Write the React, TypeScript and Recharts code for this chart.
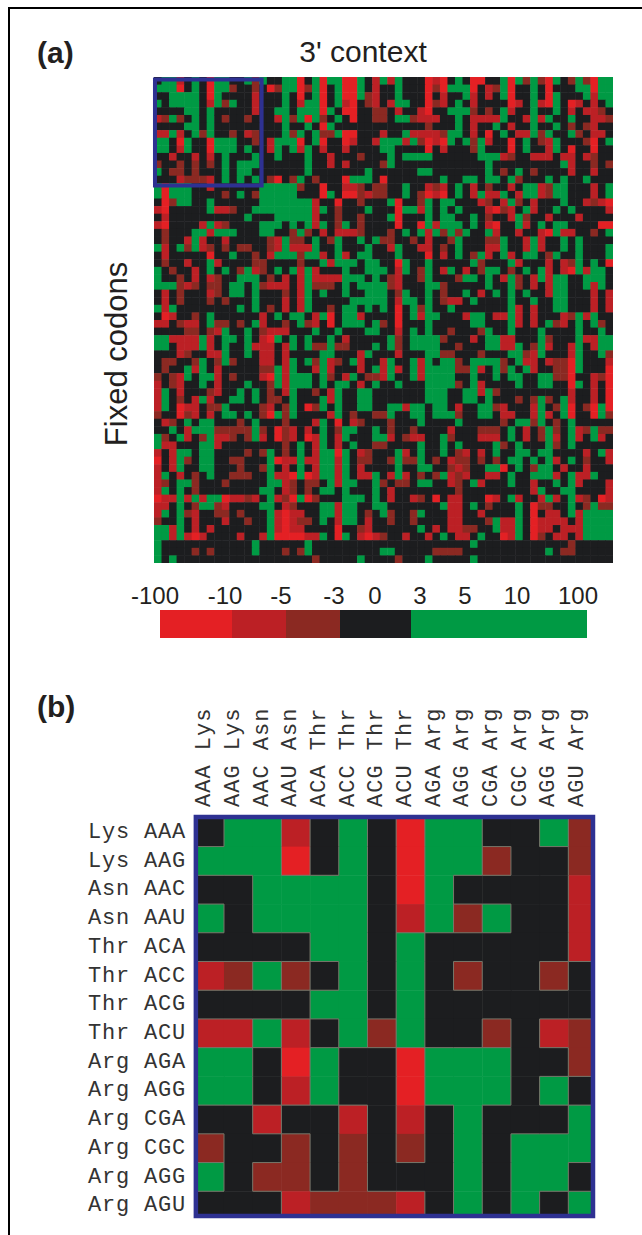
import React from "react";
import { ScatterChart, Scatter, XAxis, YAxis, ReferenceArea, BarChart, Bar } from "recharts";

// Codes: K = between -3 and 3, G = above 3, d = -3..-5, m = -5..-10, R = below -10
const colors: Record<string, string> = { K: "#1c1d1f", G: "#009a44", d: "#8b2922", m: "#bc2025", R: "#e42024" };

const aminoAcids = ["Lys", "Lys", "Asn", "Asn", "Thr", "Thr", "Thr", "Thr", "Arg", "Arg", "Arg", "Arg", "Arg", "Arg"];
const codons = ["AAA", "AAG", "AAC", "AAU", "ACA", "ACC", "ACG", "ACU", "AGA", "AGG", "CGA", "CGC", "AGG", "AGU"];

const detailRows = [
  "KGGmKGKRGGKKGd",
  "GGGRKGKRGGdKKd",
  "KKGGGGKRGKKKKm",
  "GKGGGGKmGdGKKm",
  "KKKKGGKGKKKKKm",
  "mdGdKGKGKdKKdK",
  "KKKKGGKGKKKKKK",
  "mmGmKGdGKKdKmd",
  "GGKRGKKRGGGKKd",
  "GGKmGKKRGGGKGK",
  "KKmKKmKmKGKKKG",
  "dKKdKdKdKGKGGG",
  "GKddKdKKKGKGGK",
  "KKKmdddmKGKGKG",
];

// Panel (a): columns 0-13, 14-29 and 30-60 of each of the 64 rows
const contextLeft = [
  ...detailRows,
  "GRGGGKKmKKKKKK", "GRGGGKKKKdKGKd", "KRdGGKKGKKKKKK", "mRKKKKKGmmdKKG", "KmKKKKKKKKKKGK", "mRKKKKmGmdKKKK", "KdKKKGGmGGGKKK",
  "KdKKmGmKKmKKKK", "GmKGdGmdKdKddK", "KmKKKKKRKKGKKd", "KdKKmKKGmKKKKd", "GKdKKmKGKGKdGm", "GKKdKmKmdKKGGG", "GGGdmdKddKGGKG",
  "KmKdKKKmdKGGKG", "KmKdKKKdKdKKKG", "GmGKKKKKKKKGKG", "KRmKKdKGKKKKKK", "mmKdmmKGddKdKG", "KKKKddKdmGKKGK", "GGmmmmGmKGGKGK",
  "GGKmmmGmKGKKGm", "KKKmdKKmmGKKGK", "KddKKdGKdGdKKK", "KdKKGmGKmKKKKK", "dKdmGKGGmKdKKK", "mKdmKKGKmKKKGK", "mGKmKKKdmKKGKG",
  "mGKdKmGmKKGGKG", "mGKRmmKddGKKKK", "dKKRdmKmKGGKGK", "KmdKGKGGKKKdKG", "KKGKmGGGdddddG", "GdKGmKdGmmdKdG", "GmmKKKGGmKKKKK",
  "mKmGGKGGKKKKdK", "RKmGdKGGKKddKK", "mKmGKKGGKKKdKK", "mGKmKdKGKKdddK", "mdKGGdKKKdKKKK", "mGKGKdKKKKKKKK", "RmmGmGmGGRmmdm",
  "mmKGKdGGdmKKKK", "mGKGdmKKddKdKK", "dKKGKmKKKmKKdK", "GGmGKmKmKKKKKK", "GGmGmRmKKKKmKK", "GKKKKKKKKKKKKG", "GKKKKdKdKKKKKG",
  "GKGKKKKKKKKKKK",
];

const contextMiddle = [
  "GKKGGRKGRGGRRGKm", "KRdGGRdGRKGRRGKm", "KKKGKRKGRKGRRGdm", "KKKGKmGGRKGmRKdm", "KKGGKGGGRGKRRKKd", "KKmGdGRGdKGKRKKd", "KKKGKKGKRGKKKKKK",
  "KKKGdGKGddGRRKKK", "KmGGGRKGRKKRmKKm", "KmGKGmGKmKKmKKKK", "KKGKKKGKKmKKKdKK", "KKKKKKGKKmKmKKKK", "KKKKKKGKKKKKKKGK", "KdRKdGKdKKKRGGGK",
  "GGGGGdKKRKKmmdKd", "GGGGGKKKRGKRRdmd", "GGGGGGGmKKRKKdKK", "GGGGGGGmGKdKKKGK", "KKGGGGGmKKdKKdKK", "GGGKGKGmGKdGKdKK", "GGKKdGdKmKmmmdKK",
  "KdmGddKGKdGKKGKG", "KdmGmmmGKKGKKKGK", "KmGGGdGGmKGmKGGK", "dKKKKdKKGmGGGKGG", "dKGKGmGmKKKGKKGG", "KdKmKmGmmmmGGGKG", "dmmmKmGdddKGKGGG",
  "KKKdKmGKGKKGKKGG", "KKKmKmGKKKKKGGGG", "KdKmKmGKKdKGGKGK", "mKGKGGKmGRKGGmKK", "mKKdKGdmKRKGGGKG", "dmmmKKKGKKGKKKGG", "mRGKGKGKKGKmKKKK",
  "mmKmGKGddGddKKKG", "mmKmKKKKGGKKKmGK", "mmKmGKGdGmdKGmKK", "ddGmGKKmGmKKKmKG", "mRGmGGGKGdKmGKdd", "KdGmGGGKGKGGKmKG", "KdKmGKKdKmGKKGGK",
  "KddKGKKKGmGKKGGK", "dmKdGKRdGKGKKGGK", "dRGdGKKKKmGKdKKd", "KKKdKKKmGKRKmdKK", "dKRdmKmKGKdGGKKG", "mKRdmKRmGKmGKKKG", "KKKdKGKmGKmKGKKd",
  "dGKdKGKmGGRGKmdK", "KGRmmGmmGGmGKddK", "dGKmKGKmGGmGKmKK", "KGmmRGRmGGmGKmmG", "KGGmdKddKGmGGKKG", "GGKmdKdKGGKGKKKG", "KGmdRGRdKKKGGGKG",
  "GGKmdKKKGGmGGKKG", "KGmRmmKKGGmGGKdK", "KGmRmddKGKmGGKmK", "KGmRmmKKKKRKKdmK", "mGRRRRmmGKRGKmRm", "KKKKKKGKKKKKKKKK", "KKKdKdGKKKKKKKKK",
  "KKKKKKKdKKKKKGKK",
];

const contextRight = [
  "GmGKKKRmRKGKRRKKGRGdGdRGKdGdRGG", "KKGKKKRdRGGGRKmdGRKKGKRKKKGGRGG", "KKGKKKRKmKKGmKmKGRKKGKRGKKKGmGG", "KmGGKKRdmKGKmKKKKRmKGmRGKRmKmKG",
  "dKmKKmRKKGGGdKdKGmKKGKKGKmKmmdK", "dKGGdmmmKKGKmmmmGKKmGmGKKGKKmmd", "KKKKKKdKKKGKmKKGKmKKGKKGKdKdmKK", "mKKGmmmmdGGKmKRKGKmmGdGKKGdKmmK",
  "GGGmGdRmRGKGdGmKKRKGKdmGKKKdRKG", "GGKKKKRKmKKKdGKKKRKGKKmGKRKKRKK", "KGKGGGGKKKKKKGGGmdKKmmmKmmKmdKK", "dGKKKKKKKKKKKKGKKKKKKKKKGmKKdKd",
  "KKKKKGGKKKKKKKGKdKGKdKKKKmKKmKK", "RKKKKKKKGKKGGKGGKGdKKKGKGKKGKKK", "dKKGKKmdmKGKmKdKKmKGGmdGGKKKmKG", "dKKGKdRmRKGKmGmmGKmGGmdGGKKKmKG",
  "KGRKKdGKGGKKKmdKmGdKmKKKGKKmdmR", "KKRGGmGKGKGKKKmRdmKGmKKGKGKKKKm", "KGRKKKGKGGKKGKdKKmGdKKmKKKmKKKK", "KKRKKRGmGGGKGKmRKKGmKGKGGKKKKRR",
  "KdKGKGmGdGdGKKGmKKmKKmRGmmKKdKG",
  "ddKKdKmKKdGKKKddGKKmGmKKGKGKKKK", "KmGKKmmKdKGKKKmmGKKmGmKKGKGKKKG", "KKGKKKRKmKGKdGmKGmKGGKdGKKGKKKG", "KKRGKKGKKKKKGdKKKGmKKKmKmdGKGKR",
  "GKmGKdGKmGKmKdGGKdKGKGmKmRGmGGK", "KdmKKdGKKKdGGKGKmGdKmGmGGKKGGGK", "GdmKKKGGdKKKKKGKKGdKmKmGGKKGmGK", "GKdGKKGKdKKGKmKGKGKGKKmGGKKKmKm",
  "GKmGGKGKdmmKGKKKKGKKGKKGGKKKmKm", "GKRKGdGKKGKKKKKKKGmKmKKGGKKKmKm", "KKRKGmGGKKKmGGKmmGmKmKKKmdGmGKK", "dKRKKKGKKKKKGGKKKGmKmKGdmKGKGdK",
  "KKmKGKGKKdKKKdGKKGKKKGKKKKGKKGK", "KGdKGGGGdKKKmKGGmmKKKGdKKKGmmGG", "KGdKGGGGKKdKKKGGmmGKdGmKKmGKmGG", "KKmKKKGGddKKKdKKKGGdmGKKKmGKKGd",
  "mGKKGmGKGGdKGGGGdKGmmKmddRGKKKm", "mGmKGmGGGGddGmKGdGKGmKKddRGKKKR", "mGKKGmGGGGKKGKKGKGGKKGGddRKKmdR", "KKGKKKGGGGdKGmKKKKGKKGGKKRGKmKR",
  "KKKKKKGGGKKGGmGdKKKKKKKKKmKKmKR", "KKKKKKGGGKKGGKGKKKdKdGdKGmKKmKR",
  "KGGmGGKGGKmKKGGdmKKKmGKdGRKdRGR", "dGKKGGKGGGdKKGGKmmKKmGmKGRKKRGd", "KdKKKGKKKKGKKKKKdKGGdGKdKGKKKKK", "KdKKdKKKKmKKKdddKGKmKdGdKGmdGdd",
  "GmKdmmKKGdKKKmmmKGKmKdGmKGmKGmK", "dKKKKGKKGKGKKKKGdKGKKKGdKGKKKKK", "KKGmKGKKGKdmKmKGKKGGKGGKKKKmKGm", "KdGddGKdKmddKdKdKGGKGKGmKGKdKKm",
  "KKGKKGGKKdmdKKGGRKGKdGGKmKKmKKK", "KmGmKdKdGmdmKKmmKGKKGGGmKGmmGKK", "dKddKGGKKmdKGmKKKGKKmKKGKGmKKKm", "KmKKKKKKKKdKKKKKKKKKmGKKGGKKKKm",
  "KmKKmdKRKmmKKKRmKGmKKmGmKGmdKRm", "GKKKKKKKGmmKGKdKKKGKRddKKGKdGdd", "GdKKdGKKKmmKKmKKKKGKRKmmKGmGGGG", "KdKKdKKKKmmKKKdGmmGKRmmmmKmGGGG",
  "KKKKKGKmKmmddKKGmmGKRmmKmmmGGGG", "dKKmKKmKGKmmKGKKRmGKRdKmmKmGGGG", "KKKKKKKKKKKKGKKKKKKKKKKKKdKKKKK", "GGKKKKKddddKKKKKKKKKKKGKddKKKKK",
  "KKdKKKGKKKKKGKKKKKKKKKKKKKKKKKK",
];

const legendLabels = ["-100", "-10", "-5", "-3", "0", "3", "5", "10", "100"];
const legendLabelAt = [25, 95, 151, 204, 245, 290, 335, 387, 448];
const legendSpans = [
  { key: "R", span: 72 },
  { key: "m", span: 54 },
  { key: "d", span: 54 },
  { key: "K", span: 71 },
  { key: "G", span: 176 },
];
const legendLead = 30;

const NAVY = "#2e3192";
const EDGE = "#77776a";

const toPoints = (rows: string[]) =>
  rows.flatMap((row, r) => row.split("").map((code, c) => ({ x: c + 0.5, y: r + 0.5, code, r, c })));

const contextRows = contextLeft.map((left, i) =>
  (left + contextMiddle[i] + contextRight[i]).padEnd(61, "K").slice(0, 61)
);

const contextPoints = toPoints(contextRows);
const detailPoints = toPoints(detailRows);

const A_W = 459;
const A_H = 486;
const contextCell = (p: any) => (
  <rect
    x={p.cx - A_W / 122}
    y={p.cy - A_H / 128}
    width={A_W / 61 + (p.payload.c < 60 ? 0.5 : 0)}
    height={A_H / 64 + (p.payload.r < 63 ? 0.5 : 0)}
    fill={colors[p.payload.code]}
  />
);

const B_CELL = 28.7;
const detailCell = (p: any) => {
  const { code, c, r } = p.payload;
  return (
    <rect
      x={p.cx - B_CELL / 2}
      y={p.cy - B_CELL / 2}
      width={c === 13 ? B_CELL * 0.93 : B_CELL + 0.5}
      height={r === 13 ? B_CELL * 0.93 : B_CELL + 0.5}
      fill={colors[code]}
    />
  );
};
const detailEdges = (p: any) => {
  const { code, r, c } = p.payload;
  const left = p.cx - B_CELL / 2;
  const top = p.cy - B_CELL / 2;
  const right = detailRows[r][c + 1];
  const below = detailRows[r + 1]?.[c];
  const differs = (o?: string) => o !== undefined && o !== code && (o === "K" || code === "K" || o === "G" || code === "G");
  return (
    <g>
      {differs(right) && <line x1={left + B_CELL} x2={left + B_CELL} y1={top} y2={top + B_CELL} stroke={EDGE} strokeWidth={1} />}
      {differs(below) && <line x1={left} x2={left + B_CELL} y1={top + B_CELL} y2={top + B_CELL} stroke={EDGE} strokeWidth={1} />}
    </g>
  );
};

const MONO: React.CSSProperties = { fontFamily: "'Liberation Mono', monospace", fontSize: 22, fill: "#333" };
const SANS = "'Liberation Sans', Arial, sans-serif";

const colTick = (p: any) => {
  const i = Math.floor(p.payload.value);
  return (
    <text transform={`translate(${p.x + 0.5},${p.y}) rotate(-90)`} style={{ ...MONO, letterSpacing: 1 }} textAnchor="start">
      {`${codons[i]} ${aminoAcids[i]}`}
    </text>
  );
};
const rowTick = (p: any) => {
  const i = Math.floor(p.payload.value);
  return (
    <text x={186} y={p.y + 5.7} style={{ ...MONO, letterSpacing: 0.8 }} textAnchor="end">
      {`${aminoAcids[i]} ${codons[i]}`}
    </text>
  );
};

const centers = codons.map((_, i) => i + 0.5);
const legendRow = [
  Object.fromEntries([["lead", legendLead], ...legendSpans.map((s) => [s.key, s.span])]),
];

const overlay: React.CSSProperties = { position: "absolute", left: 0, top: 0, pointerEvents: "none" };

export default function App() {
  return (
    <div style={{ position: "absolute", left: 0, top: 0, width: 642, height: 1235, overflow: "hidden", background: "#fff" }}>
      <div style={{ position: "absolute", left: 8, top: 7, width: 634, height: 1.5, background: "#000" }} />
      <div style={{ position: "absolute", left: 8, top: 7, width: 1.5, height: 1228, background: "#000" }} />

      <svg width={642} height={1235} style={{ position: "absolute", left: 0, top: 0 }}>
        <g fontFamily={SANS} fill="#231f20">
          <text x={37} y={63} fontSize={30} fontWeight={700}>(a)</text>
          <text x={37} y={717} fontSize={30} fontWeight={700}>(b)</text>
          <text x={363} y={62} fontSize={30} textAnchor="middle">3' context</text>
          <text transform="translate(127,354) rotate(-90)" fontSize={31} textAnchor="middle">Fixed codons</text>
        </g>
      </svg>

      <div style={{ position: "absolute", left: 149, top: 72 }}>
        <ScatterChart width={A_W + 10} height={A_H + 10} margin={{ top: 5, right: 5, bottom: 5, left: 5 }}>
          <XAxis type="number" dataKey="x" domain={[0, 61]} hide />
          <YAxis type="number" dataKey="y" domain={[0, 64]} reversed hide />
          <Scatter data={contextPoints} shape={contextCell} isAnimationActive={false} />
        </ScatterChart>
        <div style={overlay}>
          <ScatterChart width={A_W + 10} height={A_H + 10} margin={{ top: 5, right: 5, bottom: 5, left: 5 }}>
            <XAxis type="number" dataKey="x" orientation="top" domain={[0, 61]} allowDataOverflow height={0} axisLine={false} tickLine={false} tick={false} />
            <YAxis type="number" dataKey="y" domain={[0, 64]} allowDataOverflow reversed hide />
            <ReferenceArea x1={0.13} x2={14.3} y1={0.33} y2={14.3} fill="none" stroke={NAVY} strokeWidth={4} ifOverflow="visible" />
          </ScatterChart>
        </div>
      </div>

      <div style={{ position: "absolute", left: 130, top: 565 }}>
        <BarChart width={480} height={73} layout="vertical" data={legendRow} margin={{ top: 20, right: 0, bottom: 0, left: 0 }} barCategoryGap={0}>
          <XAxis
            type="number"
            orientation="top"
            domain={[0, 480]}
            ticks={legendLabelAt}
            interval={0}
            height={25}
            axisLine={false}
            tickLine={false}
            tickFormatter={(v: number) => legendLabels[legendLabelAt.indexOf(v)]}
            tick={{ fontFamily: SANS, fontSize: 24, fill: "#231f20" }}
            tickMargin={0}
          />
          <YAxis type="category" hide />
          <Bar dataKey="lead" stackId="s" fill="none" isAnimationActive={false} />
          {legendSpans.map((s) => (
            <Bar key={s.key} dataKey={s.key} stackId="s" fill={colors[s.key]} isAnimationActive={false} />
          ))}
        </BarChart>
      </div>

      <div style={{ position: "absolute", left: 0, top: 690 }}>
        <ScatterChart width={642} height={545} margin={{ top: 15, right: 47, bottom: 17, left: 84 }}>
          <XAxis type="number" dataKey="x" orientation="top" domain={[-0.045, 13.93]} allowDataOverflow ticks={centers} interval={0} height={110} axisLine={false} tickLine={false} tick={colTick} />
          <YAxis type="number" dataKey="y" domain={[-0.1, 13.93]} allowDataOverflow reversed ticks={centers} interval={0} width={110} axisLine={false} tickLine={false} tick={rowTick} />
          <Scatter data={detailPoints} shape={detailCell} isAnimationActive={false} />
          <Scatter data={detailPoints} shape={detailEdges} isAnimationActive={false} />
        </ScatterChart>
        <div style={overlay}>
          <ScatterChart width={642} height={545} margin={{ top: 15, right: 47, bottom: 17, left: 194 }}>
            <XAxis type="number" dataKey="x" orientation="top" domain={[-0.045, 13.93]} allowDataOverflow height={110} axisLine={false} tickLine={false} tick={false} />
            <YAxis type="number" dataKey="y" domain={[-0.1, 13.93]} allowDataOverflow reversed hide />
            <ReferenceArea x1={0.02} x2={13.86} y1={-0.03} y2={13.86} fill="none" stroke={NAVY} strokeWidth={4.5} ifOverflow="visible" />
          </ScatterChart>
        </div>
      </div>
    </div>
  );
}
